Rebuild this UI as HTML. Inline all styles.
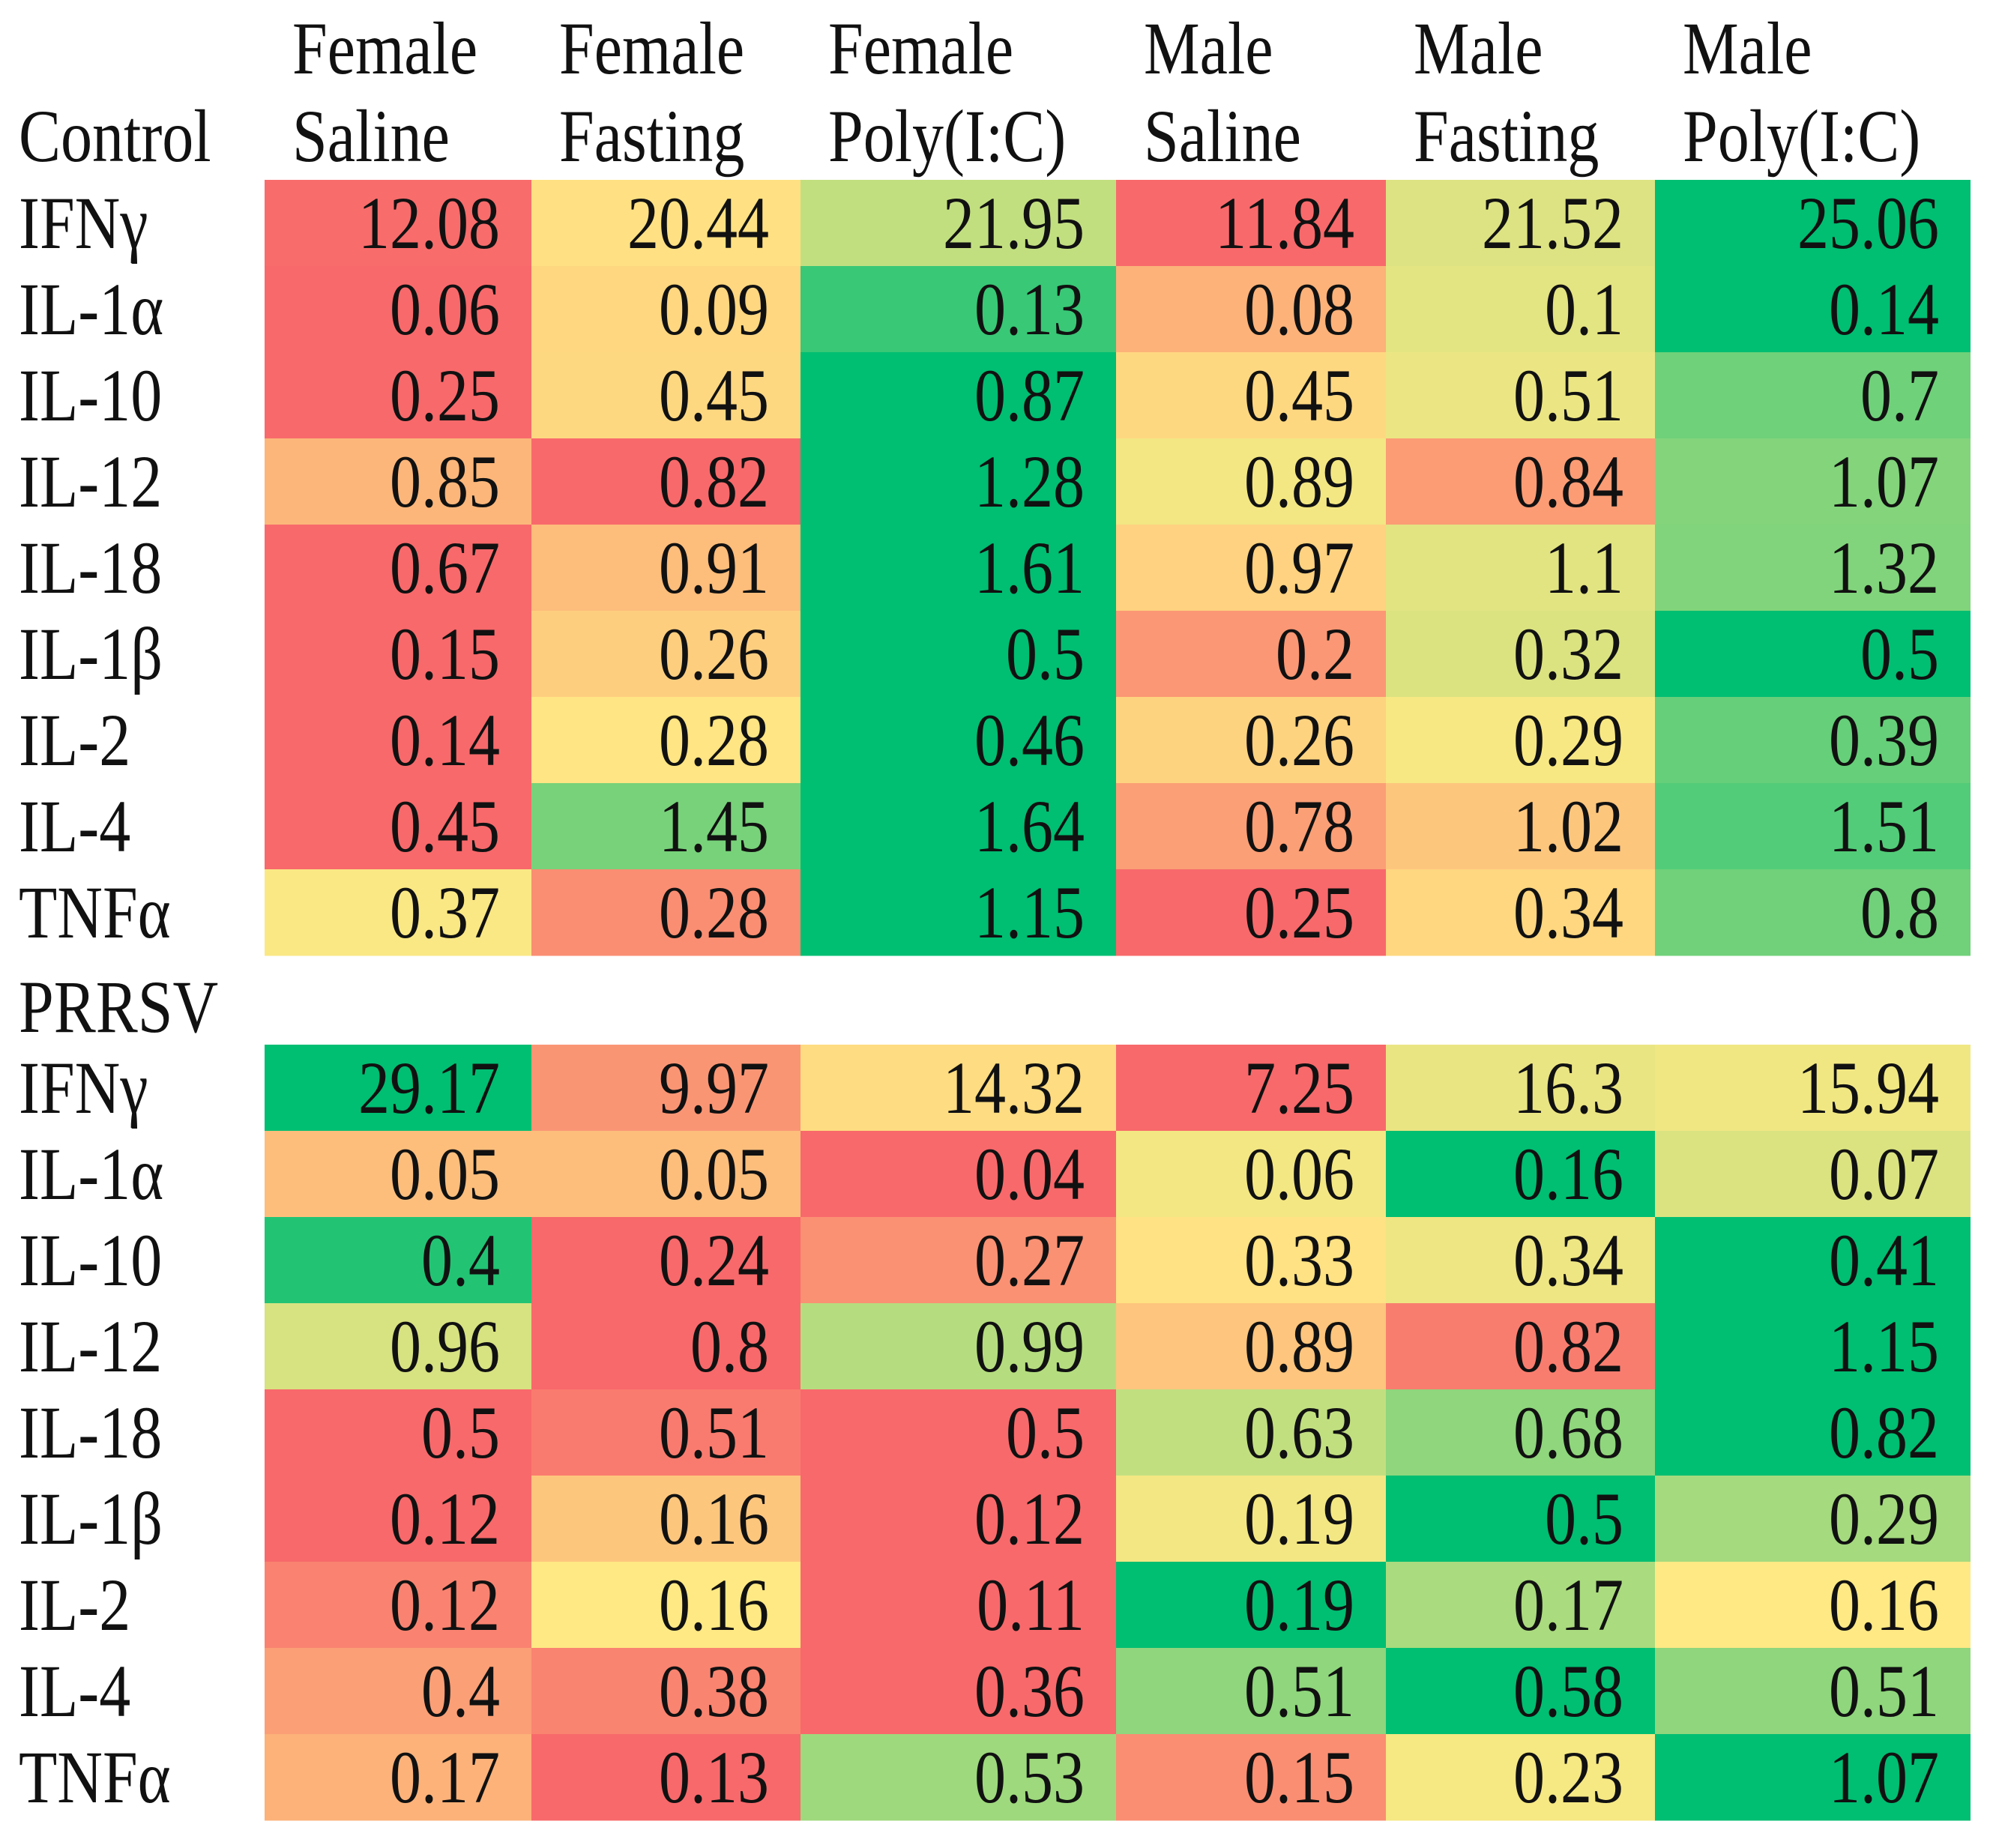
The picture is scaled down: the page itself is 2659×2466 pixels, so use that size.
<!DOCTYPE html>
<html><head><meta charset="utf-8"><style>
html,body{margin:0;padding:0;background:#fff;}
svg{display:block;}
text{font-family:"Liberation Serif",serif;fill:#111;}
</style></head><body>
<svg id="chart" width="2659" height="2466" viewBox="0 0 2659 2466" xmlns="http://www.w3.org/2000/svg"></svg>
<script>
const colTop = ["Female","Female","Female","Male","Male","Male"];
const colBottom = ["Saline","Fasting","Poly(I:C)","Saline","Fasting","Poly(I:C)"];
const rowLabels = ["IFNγ","IL-1α","IL-10","IL-12","IL-18","IL-1β","IL-2","IL-4","TNFα"];
const controlValues = [
 [12.08,20.44,21.95,11.84,21.52,25.06],
 [0.06,0.09,0.13,0.08,0.1,0.14],
 [0.25,0.45,0.87,0.45,0.51,0.7],
 [0.85,0.82,1.28,0.89,0.84,1.07],
 [0.67,0.91,1.61,0.97,1.1,1.32],
 [0.15,0.26,0.5,0.2,0.32,0.5],
 [0.14,0.28,0.46,0.26,0.29,0.39],
 [0.45,1.45,1.64,0.78,1.02,1.51],
 [0.37,0.28,1.15,0.25,0.34,0.8]
];
const prrsvValues = [
 [29.17,9.97,14.32,7.25,16.3,15.94],
 [0.05,0.05,0.04,0.06,0.16,0.07],
 [0.4,0.24,0.27,0.33,0.34,0.41],
 [0.96,0.8,0.99,0.89,0.82,1.15],
 [0.5,0.51,0.5,0.63,0.68,0.82],
 [0.12,0.16,0.12,0.19,0.5,0.29],
 [0.12,0.16,0.11,0.19,0.17,0.16],
 [0.4,0.38,0.36,0.51,0.58,0.51],
 [0.17,0.13,0.53,0.15,0.23,1.07]
];
const sectionNames = ["Control","PRRSV"];

const svg = document.getElementById('chart');
const NS = "http://www.w3.org/2000/svg";
const colEdges = [353,709,1068,1489,1849,2208,2629];
const rowH = 115;
const sectionTops = [240,1394];
const RED=[248,105,107], YEL=[255,233,132], GRN=[0,190,114];
function mix(a,b,t){return 'rgb('+a.map((v,i)=>Math.round(v+(b[i]-v)*t)).join(',')+')';}
function colorFor(v,row){
  const s=[...row].sort((a,b)=>a-b);
  const mn=s[0], mx=s[s.length-1];
  const n=s.length, med = n%2? s[(n-1)/2] : (s[n/2-1]+s[n/2])/2;
  if(v<=med){ const t = med===mn?1:(v-mn)/(med-mn); return mix(RED,YEL,t); }
  const t = mx===med?0:(v-med)/(mx-med); return mix(YEL,GRN,t);
}
function txt(x,y,s,anchor,name){
  const t=document.createElementNS(NS,'text');
  t.setAttribute('transform','translate('+x+','+y+') scale(0.84,1)');
  t.setAttribute('font-size','100');
  t.setAttribute('text-anchor',anchor);
  t.textContent=s;
  
  
  svg.appendChild(t);
  return t;
}
// headers
colTop.forEach((h,i)=>{ txt(colEdges[i]+37,98,h,'start','column-header-top'); });
colBottom.forEach((h,i)=>{ txt(colEdges[i]+37,215,h,'start','column-header-bottom'); });
txt(25,215,sectionNames[0],'start','section-label-control');
txt(25,1377,sectionNames[1],'start','section-label-prrsv');

[controlValues,prrsvValues].forEach((data,si)=>{
  const top=sectionTops[si];
  data.forEach((row,ri)=>{
    const y=top+ri*rowH;
    txt(25,y+91,rowLabels[ri],'start','row-label');
    row.forEach((v,ci)=>{
      const r=document.createElementNS(NS,'rect');
      r.setAttribute('x',colEdges[ci]); r.setAttribute('y',y);
      r.setAttribute('width',colEdges[ci+1]-colEdges[ci]); r.setAttribute('height',rowH+0.5);
      r.setAttribute('fill',colorFor(v,row));
      
      
      svg.appendChild(r);
      txt(colEdges[ci+1]-42,y+91,String(v),'end','cell-value');
    });
  });
});
</script>
</body></html>
